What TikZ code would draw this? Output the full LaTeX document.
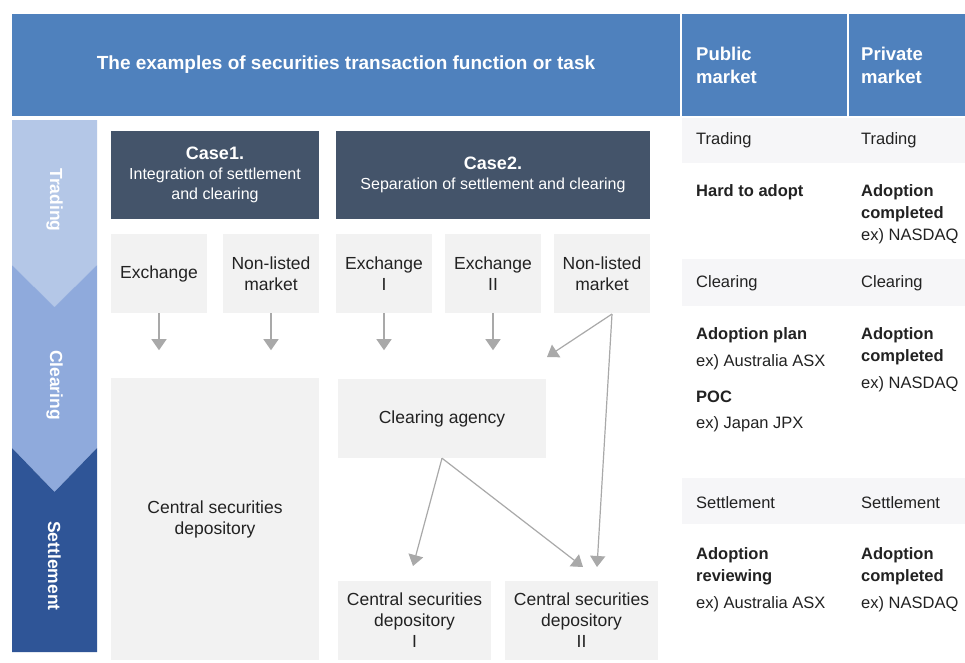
\documentclass[tikz,border=0pt]{standalone}
\usepackage{fontspec}
\setmainfont{Liberation Sans}
\usepackage{tikz}
\usetikzlibrary{arrows.meta}

\definecolor{hdrblue}{HTML}{4F81BD}
\definecolor{casedark}{HTML}{44546A}
\definecolor{boxgray}{HTML}{F2F2F2}
\definecolor{bandgray}{HTML}{F6F6F8}
\definecolor{arrgray}{HTML}{A9A9A9}
\definecolor{stTrade}{HTML}{B4C7E7}
\definecolor{stClear}{HTML}{8FAADC}
\definecolor{stSettle}{HTML}{2F5597}
\definecolor{txt}{HTML}{222222}

\begin{document}
\begin{tikzpicture}[x=1pt, y=-1pt,
    gbox/.style={fill=boxgray, inner sep=0pt, align=center, text=txt, font=\fontsize{17.5}{21}\selectfont},
    casebox/.style={fill=casedark, inner sep=0pt, align=center, text=white, font=\fontsize{16}{20}\selectfont},
    arr/.style={draw=arrgray, line width=1.2pt, -{Triangle[width=15pt,length=11pt]}},
    stage/.style={rotate=-90, text=white, font=\bfseries\fontsize{17.5}{20}\selectfont},
    hdr/.style={text=white, font=\bfseries\fontsize{18.5}{23}\selectfont},
    rowlbl/.style={anchor=west, inner sep=0pt, text=txt, font=\fontsize{16.5}{22}\selectfont},
    cell/.style={anchor=north west, inner sep=0pt, align=left, text=txt, font=\fontsize{16.5}{22}\selectfont}]
    \useasboundingbox (0,0) rectangle (965,662);
    \fill[white] (0,0) rectangle (965,662);

    % headers
    \fill[hdrblue] (12,14) rectangle (680,116);
    \fill[hdrblue] (682,14) rectangle (847,116);
    \fill[hdrblue] (849,14) rectangle (965,116);
    \node[hdr, font=\bfseries\fontsize{19}{22}\selectfont] (title) at (346,65) {The examples of securities transaction function or task};
    \node[hdr, anchor=west, align=left, inner sep=0pt] (pub) at (696,65) {Public\\market};
    \node[hdr, anchor=west, align=left, inner sep=0pt] (priv) at (861,65) {Private\\market};

    % stage column
    \fill[stTrade] (12,120) -- (97,120) -- (97,265) -- (54.5,307) -- (12,265) -- cycle;
    \fill[stClear] (12,265) -- (54.5,307) -- (97,265) -- (97,448) -- (54.5,492) -- (12,448) -- cycle;
    \fill[stSettle] (12,448) -- (54.5,492) -- (97,448) -- (97,652) -- (12,652) -- cycle;
    \node[stage] (sTrade) at (54.5,200) {Trading};
    \node[stage] (sClear) at (54.5,385) {Clearing};
    \node[stage] (sSettle) at (54.5,566) {Settlement};

    % case headers
    \node[casebox, minimum width=208pt, minimum height=88pt] (case1) at (215,175)
        {{\bfseries\fontsize{18}{20}\selectfont Case1.}\\Integration of settlement\\and clearing};
    \node[casebox, minimum width=314pt, minimum height=88pt] (case2) at (493,175)
        {{\bfseries\fontsize{18}{20}\selectfont Case2.}\\Separation of settlement and clearing};

    % markets
    \node[gbox, minimum width=96pt, minimum height=79pt] (ex) at (159,273.5) {Exchange};
    \node[gbox, minimum width=96pt, minimum height=79pt] (nl1) at (271,273.5) {Non-listed\\market};
    \node[gbox, minimum width=96pt, minimum height=79pt] (ex1) at (384,273.5) {Exchange\\I};
    \node[gbox, minimum width=96pt, minimum height=79pt] (ex2) at (493,273.5) {Exchange\\II};
    \node[gbox, minimum width=96pt, minimum height=79pt] (nl2) at (602,273.5) {Non-listed\\market};

    % agencies
    \node[gbox, minimum width=208pt, minimum height=282pt] (csd) at (215,519) {Central securities\\depository};
    \node[gbox, minimum width=208pt, minimum height=79pt] (ca) at (442,418.5) {Clearing agency};
    \node[gbox, minimum width=153pt, minimum height=79pt] (csd1) at (414.5,620.5) {Central securities\\depository\\I};
    \node[gbox, minimum width=153pt, minimum height=79pt] (csd2) at (581.5,620.5) {Central securities\\depository\\II};

    % arrow ends
    \coordinate (nlOut) at (612,314);
    \coordinate (toCa) at (547,357);
    \coordinate (toCsd1) at (413,566);
    \coordinate (toCsd2a) at (583,567);
    \coordinate (toCsd2b) at (597,567);

    \foreach \n in {ex,nl1,ex1,ex2}
        \draw[arr] (\n.south) -- ++(0,37);
    \draw[arr] (nlOut) -- (toCa);
    \draw[arr] (nlOut) -- (toCsd2b);
    \draw[arr] (ca.south) -- (toCsd1);
    \draw[arr] (ca.south) -- (toCsd2a);

    % right table
    \fill[bandgray] (682,118) rectangle (965,163);
    \fill[bandgray] (682,259) rectangle (965,306);
    \fill[bandgray] (682,478) rectangle (965,524);
    \node[rowlbl] (tPub) at (696,140) {Trading};
    \node[rowlbl] (tPriv) at (861,140) {Trading};
    \node[rowlbl] (cPub) at (696,283) {Clearing};
    \node[rowlbl] (cPriv) at (861,283) {Clearing};
    \node[rowlbl] (sPub) at (696,503) {Settlement};
    \node[rowlbl] (sPriv) at (861,503) {Settlement};

    \node[cell] (tPubC) at (696,184) {\textbf{Hard to adopt}};
    \node[cell] (tPrivC) at (861,184) {\textbf{Adoption}\\\textbf{completed}\\ex) NASDAQ};
    \node[cell] (cPubC) at (696,327) {\textbf{Adoption plan}\\[5pt]ex) Australia ASX\\[14pt]\textbf{POC}\\[4pt]ex) Japan JPX};
    \node[cell] (cPrivC) at (861,327) {\textbf{Adoption}\\\textbf{completed}\\[5pt]ex) NASDAQ};
    \node[cell] (sPubC) at (696,547) {\textbf{Adoption}\\\textbf{reviewing}\\[5pt]ex) Australia ASX};
    \node[cell] (sPrivC) at (861,547) {\textbf{Adoption}\\\textbf{completed}\\[5pt]ex) NASDAQ};
\end{tikzpicture}
\end{document}
